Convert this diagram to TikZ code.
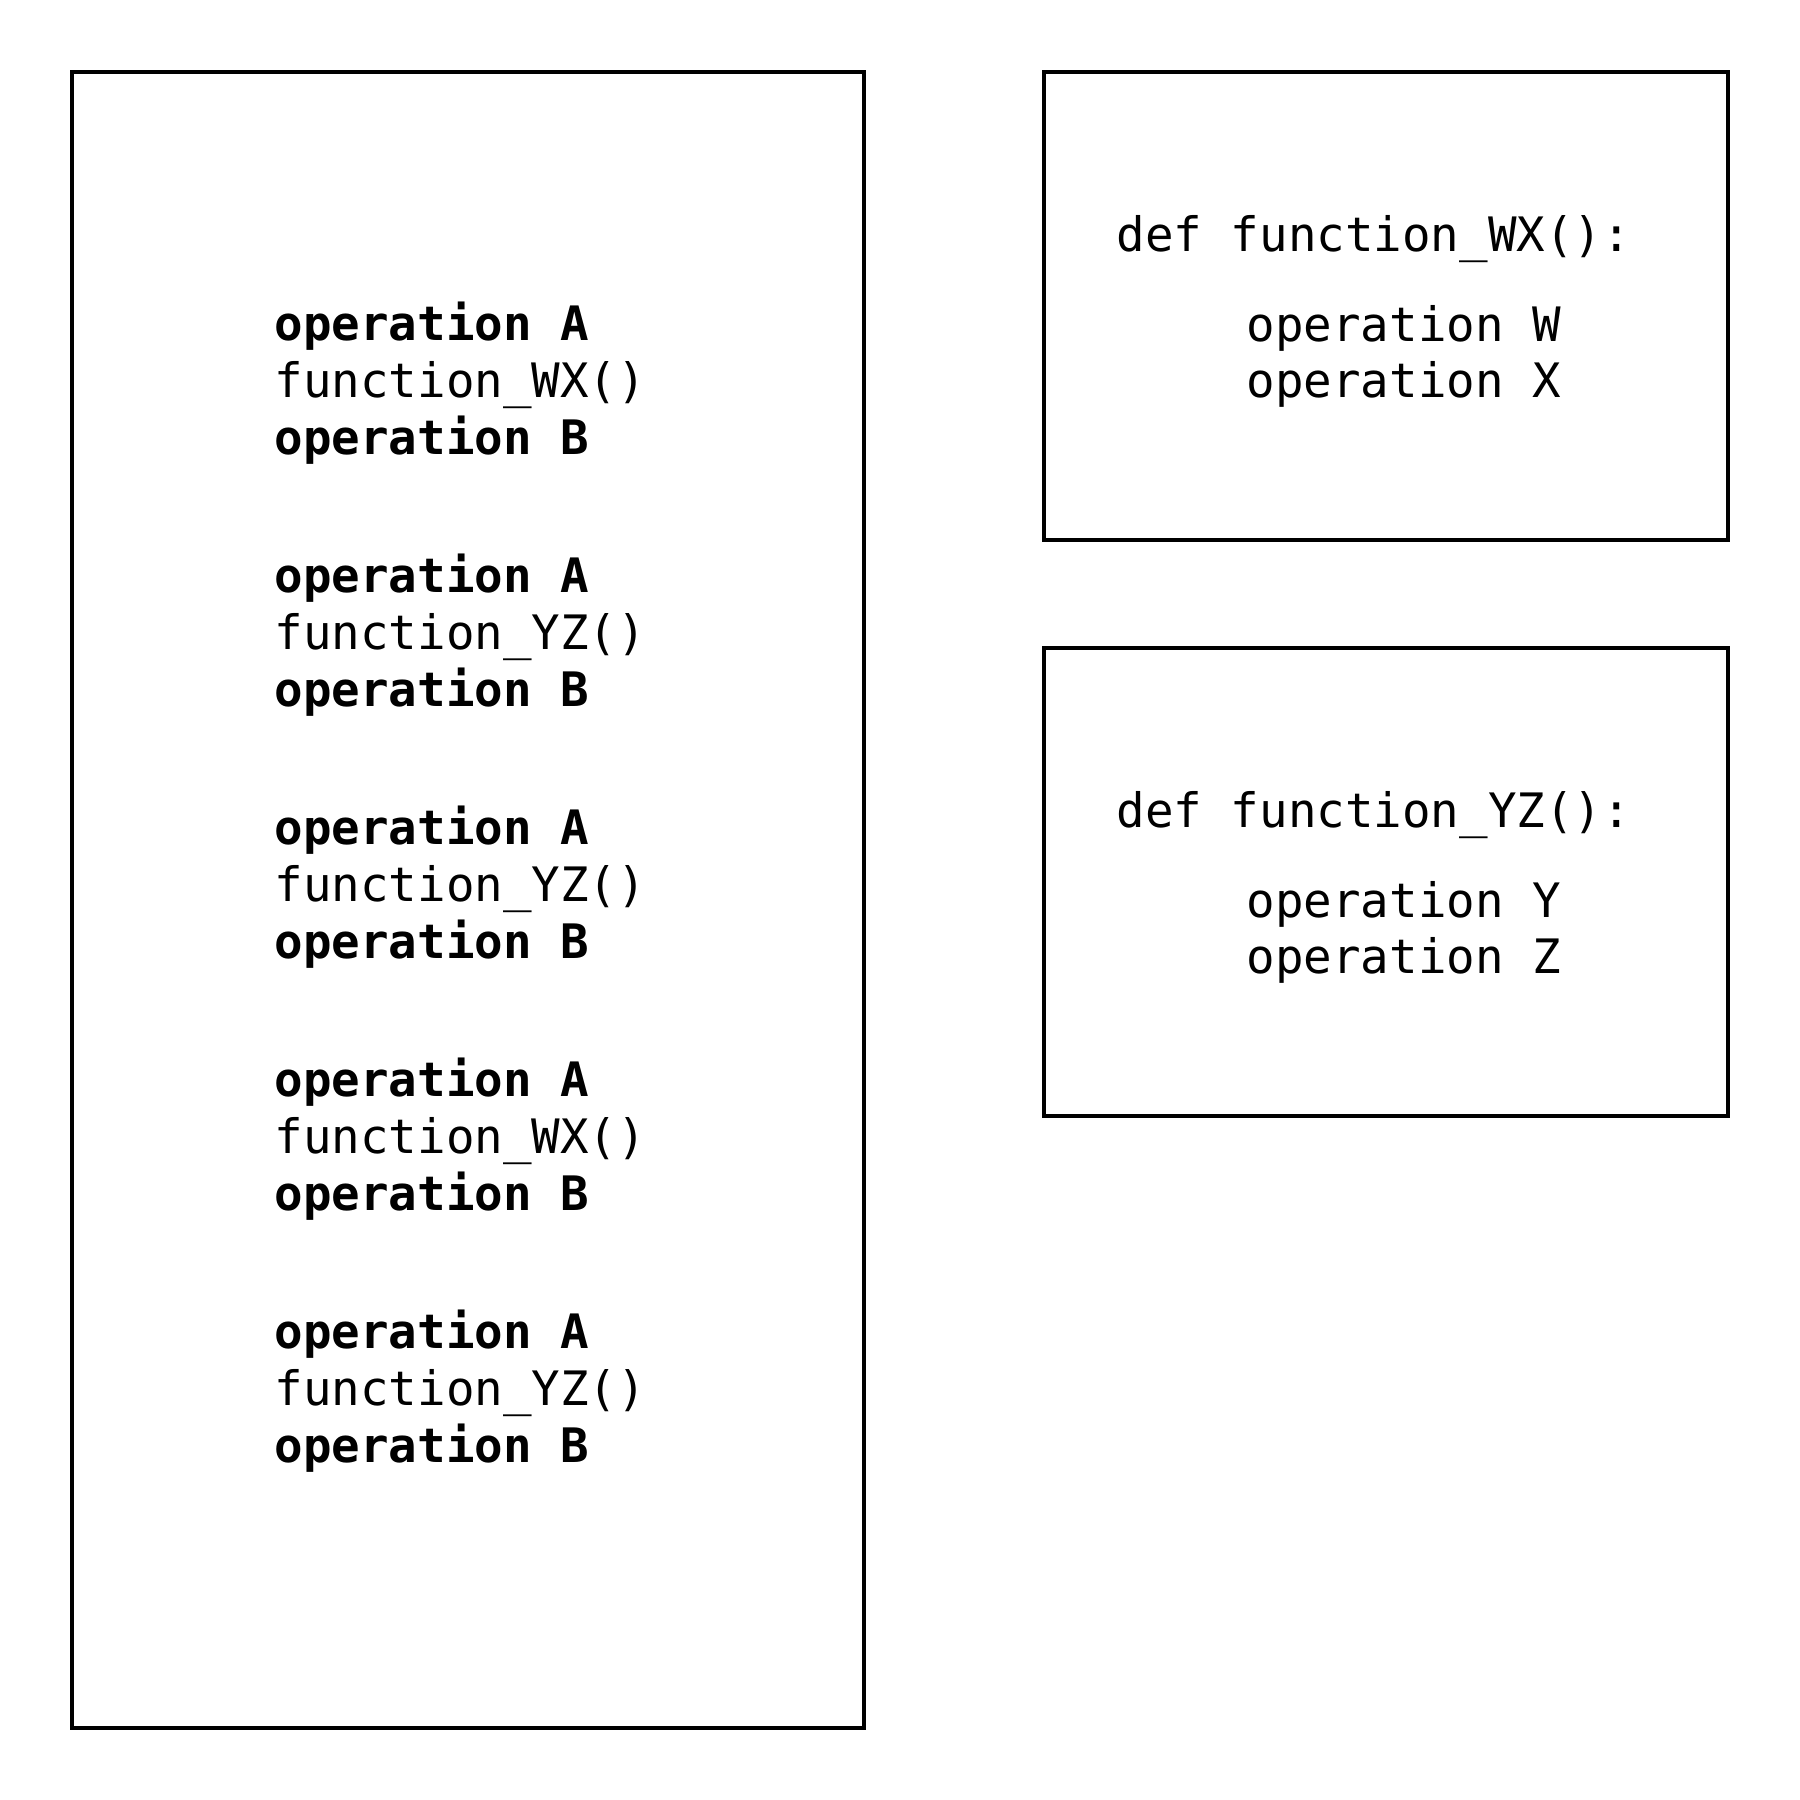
\documentclass[tikz,border=0pt]{standalone}
\usepackage{fontspec}
\usepackage{tikz}
\newfontfamily\codefont{DejaVu Sans Mono}

\tikzset{
    box/.style={draw, line width=1.14pt},
    code/.style={font=\codefont\fontsize{13.5}{16.2}\selectfont, inner sep=0pt, anchor=base west},
    boldcode/.style={code, font=\codefont\bfseries\fontsize{13.5}{16.2}\selectfont},
}

\begin{document}
\begin{tikzpicture}
        	% Frame and boxes:
        	\useasboundingbox (0, 0) rectangle (18, -18);
        	\draw[box] (0.72, -0.72) rectangle (8.64, -17.28);
        	\draw[box] (10.44, -0.72) rectangle (17.28, -5.40);
        	\draw[box] (10.44, -6.48) rectangle (17.28, -11.16);
        	% Main program:
        	\node[boldcode] (opA1) at (2.74, -3.40) {operation A};
        	\node[code] (call1) at (2.74, -3.97) {function\_WX()};
        	\node[boldcode] (opB1) at (2.74, -4.54) {operation B};
        	\node[boldcode] (opA2) at (2.74, -5.92) {operation A};
        	\node[code] (call2) at (2.74, -6.49) {function\_YZ()};
        	\node[boldcode] (opB2) at (2.74, -7.06) {operation B};
        	\node[boldcode] (opA3) at (2.74, -8.44) {operation A};
        	\node[code] (call3) at (2.74, -9.01) {function\_YZ()};
        	\node[boldcode] (opB3) at (2.74, -9.58) {operation B};
        	\node[boldcode] (opA4) at (2.74, -10.96) {operation A};
        	\node[code] (call4) at (2.74, -11.53) {function\_WX()};
        	\node[boldcode] (opB4) at (2.74, -12.10) {operation B};
        	\node[boldcode] (opA5) at (2.74, -13.48) {operation A};
        	\node[code] (call5) at (2.74, -14.05) {function\_YZ()};
        	\node[boldcode] (opB5) at (2.74, -14.62) {operation B};
        	% Function definitions:
        	\node[code] (defWX) at (11.16, -2.51) {def function\_WX():};
        	\node[code] (opW) at (12.46, -3.41) {operation W};
        	\node[code] (opX) at (12.46, -3.97) {operation X};
        	\node[code] (defYZ) at (11.16, -8.27) {def function\_YZ():};
        	\node[code] (opY) at (12.46, -9.17) {operation Y};
        	\node[code] (opZ) at (12.46, -9.73) {operation Z};
        \end{tikzpicture}
\end{document}
